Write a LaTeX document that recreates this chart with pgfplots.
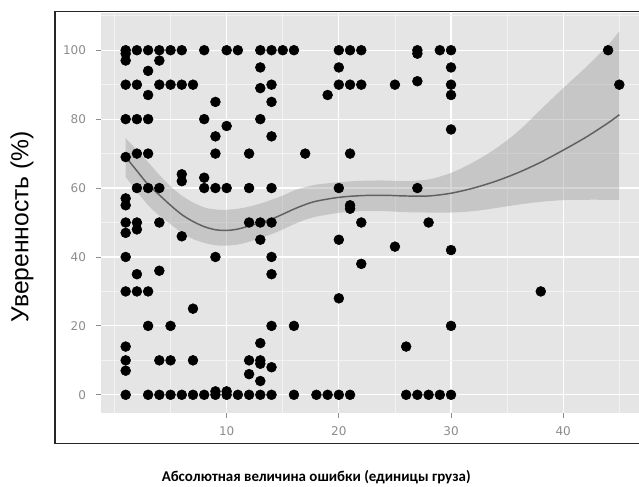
\documentclass[border=0pt]{standalone}
\usepackage{fontspec}
\setmainfont{Liberation Sans}
\newfontfamily\tickfont{DejaVu Sans}
\newfontfamily\xlabfont{Carlito}
\usepackage{pgfplots}
\usepackage{pgfplotstable}
\pgfplotsset{compat=1.18}
\usepgfplotslibrary{fillbetween}
\definecolor{panel}{HTML}{E5E5E5}
\definecolor{minorgrid}{HTML}{F2F2F2}
\definecolor{tickgray}{HTML}{8C8C8C}
\definecolor{bandgray}{HTML}{999999}
\definecolor{linegray}{HTML}{606060}

\pgfplotstableread{
x y
1 100
1 99
1 97
1 90
1 80
1 69
1 57
1 55
1 50
1 47
1 40
1 30
1 14
1 10
1 7
1 0
2 100
2 90
2 80
2 70
2 60
2 50
2 48
2 35
2 30
3 100
3 94
3 87
3 80
3 70
3 60
3 30
3 20
3 0
4 100
4 97
4 90
4 60
4 50
4 36
4 10
4 0
5 100
5 90
5 20
5 10
5 0
6 100
6 90
6 64
6 62
6 46
6 0
7 90
7 25
7 10
7 0
8 100
8 80
8 63
8 60
8 0
9 85
9 75
9 70
9 60
9 40
9 1
9 0
10 100
10 78
10 60
10 1
10 0
11 100
11 0
12 70
12 60
12 50
12 10
12 6
12 0
13 100
13 95
13 89
13 80
13 50
13 45
13 15
13 10
13 9
13 4
13 0
14 100
14 90
14 85
14 75
14 60
14 50
14 40
14 35
14 20
14 8
14 0
15 100
16 100
16 20
16 0
17 70
18 0
19 87
19 0
20 100
20 95
20 90
20 60
20 45
20 28
20 0
21 100
21 90
21 70
21 55
21 54
21 0
22 100
22 90
22 50
22 38
25 90
25 43
26 14
26 0
27 100
27 99
27 91
27 60
27 0
28 50
28 0
29 100
29 0
30 100
30 95
30 90
30 87
30 77
30 42
30 20
30 0
38 30
44 100
45 90
}\pointdata

\pgfplotstableread{
x mid upper lower
1 69.0 74.5 63.2
2 65.0 71.0 59.0
3 61.0 67.5 55.0
4 58.0 63.8 52.0
5 55.0 60.5 49.5
6 52.3 57.8 47.0
7 50.3 55.8 45.2
8 48.8 54.4 44.1
9 47.9 53.8 43.4
10 47.7 53.7 43.3
11 48.1 54.0 43.6
12 49.0 54.6 44.4
13 49.9 55.5 45.5
14 51.0 56.6 46.6
15 52.4 57.8 48.0
16 53.9 59.3 49.5
17 55.2 60.3 50.8
18 56.2 61.0 51.7
20 57.3 61.7 52.8
22 57.8 62.1 53.3
24 57.9 62.2 53.3
26 57.7 62.0 53.0
28 57.7 62.5 52.9
30 58.5 64.4 52.9
32 60.0 67.5 53.3
34 62.0 71.5 54.2
36 64.5 76.5 55.2
38 67.5 82.8 56.0
40 71.0 89.0 56.5
42 74.7 95.0 56.6
44 78.9 101.5 56.6
45 81.3 105.5 56.6
}\smoothdata

\begin{document}
\begin{tikzpicture}
\begin{axis}[
  scale only axis, width=407.25pt, height=300pt,
  xmin=-1.2, xmax=47.2, ymin=-5.28, ymax=110.8,
  axis background/.style={fill=panel},
  axis line style={draw=none},
  xtick={10,20,30,40}, ytick={0,20,40,60,80,100},
  minor xtick={0,5,15,25,35,45}, minor ytick={10,30,50,70,90,110},
  grid=both,
  major grid style={white, line width=0.9pt},
  minor grid style={minorgrid, line width=0.6pt},
  tick align=outside, xtick pos=bottom, ytick pos=left,
  major tick length=3.75pt, minor tick length=0pt,
  tick style={tickgray, line width=0.6pt},
  ticklabel style={font=\tickfont\fontsize{9}{10}\selectfont, text=tickgray},
  xticklabel style={yshift=-3pt},
  yticklabel style={xshift=-4pt},
  /pgf/number format/assume math mode=true,
  xlabel={\xlabfont\bfseries\fontsize{11.2}{13}\selectfont Абсолютная величина ошибки (единицы груза)},
  ylabel={\fontsize{18.5}{20}\selectfont Уверенность (\%)},
  every axis x label/.style={at={(axis description cs:0.3965,-0.16)}, anchor=center},
  every axis y label/.style={at={(axis description cs:-0.1455,0.466)}, anchor=center, rotate=90},
]
\path (rel axis cs:0,0) coordinate (O);
\addplot[only marks, mark=*, mark size=3.7pt, black] table[x=x, y=y] {\pointdata};
\addplot[draw=none, name path=bandup, smooth, forget plot] table[x=x, y=upper] {\smoothdata};
\addplot[draw=none, name path=bandlo, smooth, forget plot] table[x=x, y=lower] {\smoothdata};
\addplot[fill=bandgray, fill opacity=0.4, draw=none] fill between[of=bandup and bandlo];
\addplot[linegray, line width=1.1pt, smooth, no marks] table[x=x, y=mid] {\smoothdata};
\end{axis}
\draw[black!85, line width=0.9pt] ([shift={(-34.5pt,-22.6pt)}]O) rectangle ([shift={(440pt,301.3pt)}]O);
\pgfresetboundingbox
\useasboundingbox ([shift={(-75.75pt,-54.75pt)}]O) rectangle ([shift={(403.5pt,309.75pt)}]O);
\end{tikzpicture}
\end{document}
